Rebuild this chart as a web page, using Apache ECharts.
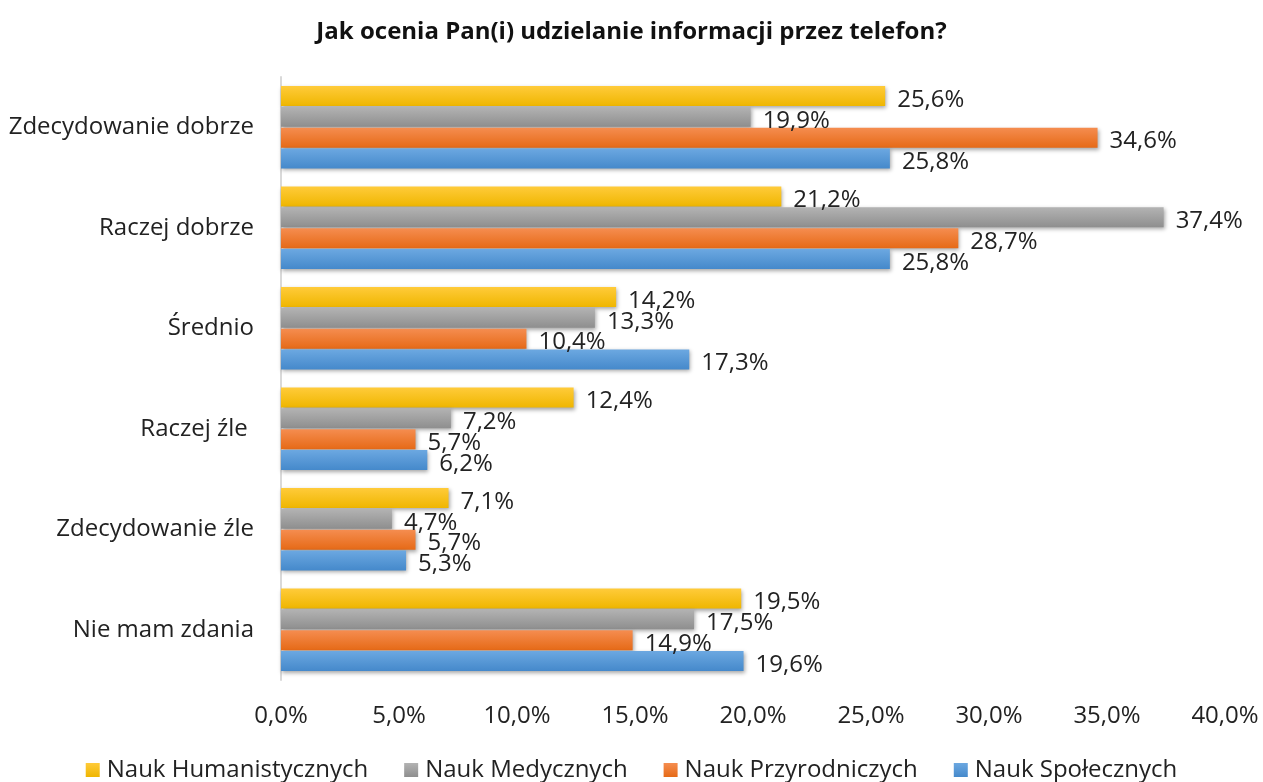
<!DOCTYPE html>
<html>
<head>
<meta charset="utf-8">
<script src="https://cdn.jsdelivr.net/npm/echarts@6/dist/echarts.min.js"></script>
<style>
  html, body { margin: 0; padding: 0; background: #fff; }
  #chart { width: 1263px; height: 782px; }
</style>
</head>
<body>
<div id="chart"></div>
<script>
const categories = ['Zdecydowanie dobrze', 'Raczej dobrze', 'Średnio', 'Raczej źle ', 'Zdecydowanie źle', 'Nie mam zdania'];
const humanistyczne = [25.6, 21.2, 14.2, 12.4, 7.1, 19.5];
const medyczne = [19.9, 37.4, 13.3, 7.2, 4.7, 17.5];
const przyrodnicze = [34.6, 28.7, 10.4, 5.7, 5.7, 14.9];
const spoleczne = [25.8, 25.8, 17.3, 6.2, 5.3, 19.6];
const xTicks = [0, 5, 10, 15, 20, 25, 30, 35, 40];

const font = '"Open Sans", "DejaVu Sans", sans-serif';
const pct = v => v.toFixed(1).replace('.', ',') + '%';

function grad(top, bottom) {
  return new echarts.graphic.LinearGradient(0, 0, 0, 1, [
    { offset: 0, color: top },
    { offset: 1, color: bottom }
  ]);
}

function makeSeries(name, data, top, bottom) {
  return {
    name: name,
    type: 'bar',
    data: data,
    barGap: '4%',
    barCategoryGap: '18%',
    itemStyle: {
      color: grad(top, bottom),
      shadowColor: 'rgba(0,0,0,0.35)',
      shadowBlur: 4,
      shadowOffsetX: 1,
      shadowOffsetY: 2
    },
    label: {
      show: true,
      position: 'right',
      distance: 12,
      offset: [0, 4],
      formatter: p => pct(p.value),
      fontFamily: font,
      fontSize: 24,
      color: '#222'
    }
  };
}

const chart = echarts.init(document.getElementById('chart'));
chart.setOption({
  animation: false,
  title: {
    text: 'Jak ocenia Pan(i) udzielanie informacji przez telefon?',
    left: 'center',
    top: 15,
    textStyle: { fontFamily: font, fontSize: 24, fontWeight: 'bold', color: '#111' }
  },
  grid: { left: 281, right: 38, top: 77, bottom: 102 },
  legend: {
    bottom: -5,
    left: 'center',
    icon: 'rect',
    itemWidth: 14,
    itemHeight: 14,
    itemGap: 36,
    textStyle: { fontFamily: font, fontSize: 24, color: '#222', padding: [0, 0, 0, 2] },
    data: ['Nauk Humanistycznych', 'Nauk Medycznych', 'Nauk Przyrodniczych', 'Nauk Społecznych']
  },
  xAxis: {
    type: 'value',
    min: xTicks[0],
    max: xTicks[xTicks.length - 1],
    interval: 5,
    axisLine: { show: false },
    axisTick: { show: false },
    splitLine: { show: false },
    axisLabel: {
      margin: 24,
      formatter: pct,
      fontFamily: font,
      fontSize: 24,
      color: '#222'
    }
  },
  yAxis: {
    type: 'category',
    inverse: true,
    data: categories,
    axisLine: { show: true, lineStyle: { color: '#d9d9d9', width: 2 } },
    axisTick: { show: false },
    axisLabel: {
      margin: 27,
      fontFamily: font,
      fontSize: 24,
      color: '#222'
    }
  },
  series: [
    makeSeries('Nauk Humanistycznych', humanistyczne, '#ffcb3a', '#efb600'),
    makeSeries('Nauk Medycznych', medyczne, '#b3b3b3', '#8e8e8e'),
    makeSeries('Nauk Przyrodniczych', przyrodnicze, '#f58d50', '#e66a17'),
    makeSeries('Nauk Społecznych', spoleczne, '#6ca8e1', '#4589cb')
  ]
});
</script>
</body>
</html>
